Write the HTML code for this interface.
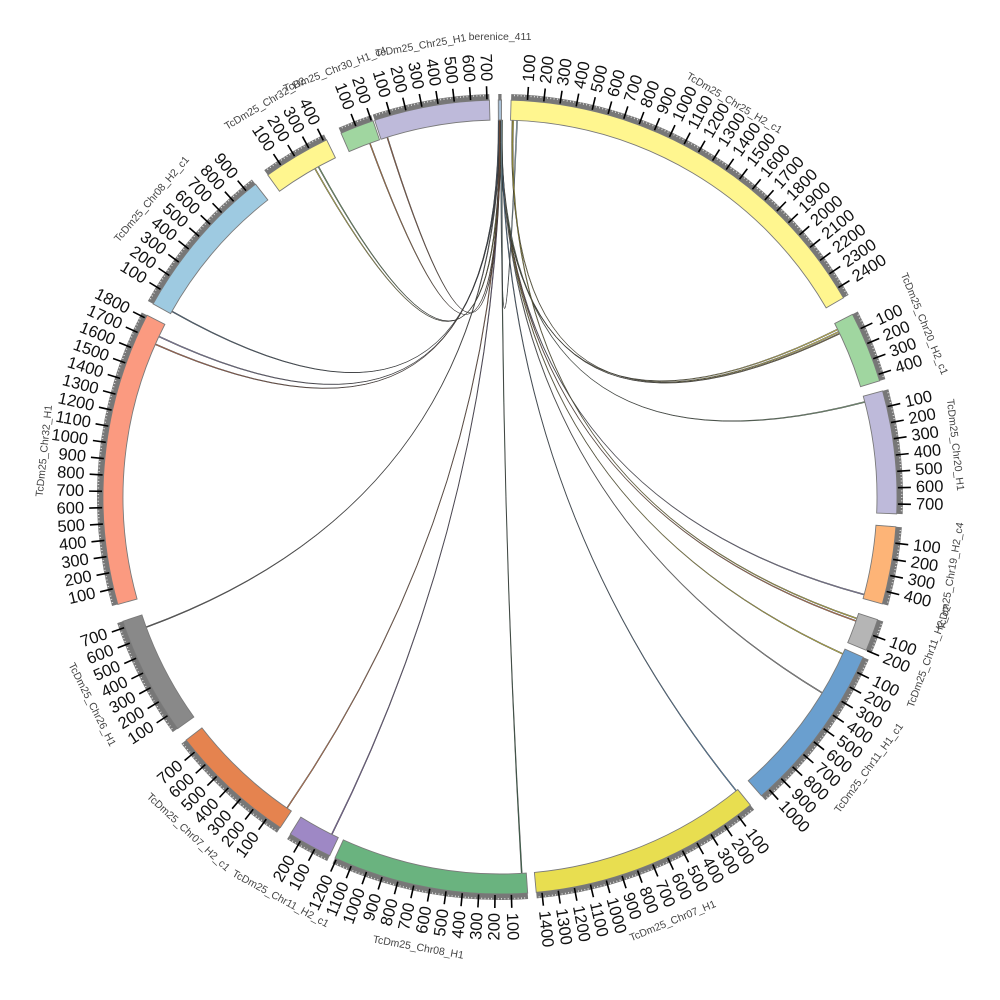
<!DOCTYPE html>
<html><head><meta charset="utf-8">
<style>html,body{margin:0;padding:0;background:#fff;width:1000px;height:1000px;overflow:hidden}</style>
</head><body>
<svg id="s" width="1000" height="1000" xmlns="http://www.w3.org/2000/svg"></svg>
<script>
const CX=500,CY=497,S=0.0236;
const R0=377,R1=397,RG=403,RT=411,RL=416,RN=458;
const NS="http://www.w3.org/2000/svg";
const svg=document.getElementById('s');
function P(a,r){const t=a*Math.PI/180;return [CX+r*Math.sin(t),CY-r*Math.cos(t)];}
function f(p){return p[0].toFixed(2)+' '+p[1].toFixed(2);}
function el(n,at,txt){const e=document.createElementNS(NS,n);for(const k in at)e.setAttribute(k,at[k]);if(txt!==undefined)e.textContent=txt;svg.appendChild(e);return e;}
function sector(a1,a2,r1,r2){const lg=(a2-a1)>180?1:0;
 return 'M'+f(P(a1,r2))+' A'+r2+' '+r2+' 0 '+lg+' 1 '+f(P(a2,r2))+' L'+f(P(a2,r1))+' A'+r1+' '+r1+' 0 '+lg+' 0 '+f(P(a1,r1))+' Z';}
const segs=[
 ["berenice_411",-0.25,20,"#a9c0d6",0],
 ["TcDm25_Chr25_H2_c1",1.6,2470,"#fff68f",1],
 ["TcDm25_Chr20_H2_c1",62.6,440,"#a0d6a0",1],
 ["TcDm25_Chr20_H1",74.5,760,"#bebada",1],
 ["TcDm25_Chr19_H2_c4",94.3,480,"#fdb477",1],
 ["TcDm25_Chr11_H2_c2",108,200,"#b5b5b5",1],
 ["TcDm25_Chr11_H1_c1",113.8,1060,"#6a9fcf",1],
 ["TcDm25_Chr07_H1",140.9,1435,"#e8de50",1],
 ["TcDm25_Chr08_H1",176.0,1210,"#6ab37f",1],
 ["TcDm25_Chr11_H2_c1",205.4,275,"#9e88c5",1],
 ["TcDm25_Chr07_H2_c1",213.6,790,"#e5834f",1],
 ["TcDm25_Chr26_H1",234.3,740,"#898989",1],
 ["TcDm25_Chr32_H1",254.3,1820,"#fb9a80",1],
 ["TcDm25_Chr08_H2_c1",299.1,970,"#9ecae1",1],
 ["TcDm25_Chr32_H2",324.2,420,"#fff68f",1],
 ["TcDm25_Chr30_H1_c4",336.4,210,"#a0d6a0",1],
 ["TcDm25_Chr25_H1",341.6,715,"#bebada",1]
];
const links=[
 [0.0,63.6,"#e8d84a"],[0.05,64.3,"#7a6a3a"],[0.1,75.4,"#7cab7c"],
 [0.0,105.0,"#8b86b8"],[0.1,109.2,"#e07a45"],[0.15,114.6,"#d8cc30"],
 [0.2,121.3,"#8f8f8f"],[0.25,141.2,"#4b7fb0"],[0.3,176.7,"#2f6b45"],
 [0.1,206.5,"#7b5fa8"],[0.2,214.4,"#d4733f"],[0.0,249.8,"#555"],
 [-0.1,295.2,"#8a86b8"],[-0.15,293.9,"#c66a48"],[-0.2,299.5,"#44607c"],
 [0.05,331.2,"#6c9e64"],[0.1,330.6,"#c9c040"],[0.0,339.8,"#c57a3a"],[-0.05,342.6,"#9b5a3a"],
 [2.6,0.2,"#9ecae1"],[1.9,64.0,"#e8d84a"],[2.0,108.8,"#d8cc30"]
];
const w=0.08;
for(const [a,b,c] of links){
 const C=[CX,CY];
 const d='M'+f(P(a-w,R0))+' A'+R0+' '+R0+' 0 0 1 '+f(P(a+w,R0))+
  ' Q'+f(C)+' '+f(P(b-w,R0))+' A'+R0+' '+R0+' 0 0 1 '+f(P(b+w,R0))+
  ' Q'+f(C)+' '+f(P(a-w,R0))+' Z';
 el('path',{d:d,fill:c,stroke:'#333','stroke-width':0.45,'fill-opacity':0.9});
}
for(const [name,st,len,col,tk] of segs){
 const en=st+len*S;
 el('path',{d:sector(st,en,R1,RG),fill:'#777'});
 el('path',{d:sector(st,en,R0,R1),fill:col,stroke:'#7a7a7a','stroke-width':0.9});
 for(let u=20;u<len;u+=20){const a=st+u*S;const q1=P(a,R1+4),q2=P(a,R1+5.5);el('line',{x1:q1[0],y1:q1[1],x2:q2[0],y2:q2[1],stroke:'#eee','stroke-width':0.8});}
 if(tk){
  for(let u=100;u<=len;u+=100){
   const a=st+u*S;const p1=P(a,R1+1),p2=P(a,RT),pl=P(a,RL);
   el('line',{x1:p1[0],y1:p1[1],x2:p2[0],y2:p2[1],stroke:'#000','stroke-width':1.6});
   let an=((a%360)+360)%360;let rot,anc;
   if(an<180){rot=an-90;anc='start';}else{rot=an+90;anc='end';}
   el('text',{x:pl[0],y:pl[1],transform:'rotate('+rot.toFixed(2)+' '+pl[0].toFixed(2)+' '+pl[1].toFixed(2)+')','text-anchor':anc,'dominant-baseline':'central','font-family':'Liberation Sans, sans-serif','font-size':16.5,fill:'#111'},String(u));
  }
 }
 const m=(st+en)/2;let an=((m%360)+360)%360;
 let pn=P(m,RN);
 let rot=(an>90&&an<270)?an-180:an;
 if(name==="berenice_411"){pn=[500,37];rot=0;}
 el('text',{x:pn[0],y:pn[1],transform:'rotate('+rot.toFixed(2)+' '+pn[0].toFixed(2)+' '+pn[1].toFixed(2)+')','text-anchor':'middle','dominant-baseline':'central','font-family':'Liberation Sans, sans-serif','font-size':10.5,fill:'#444'},name);
}
</script>
</body></html>
